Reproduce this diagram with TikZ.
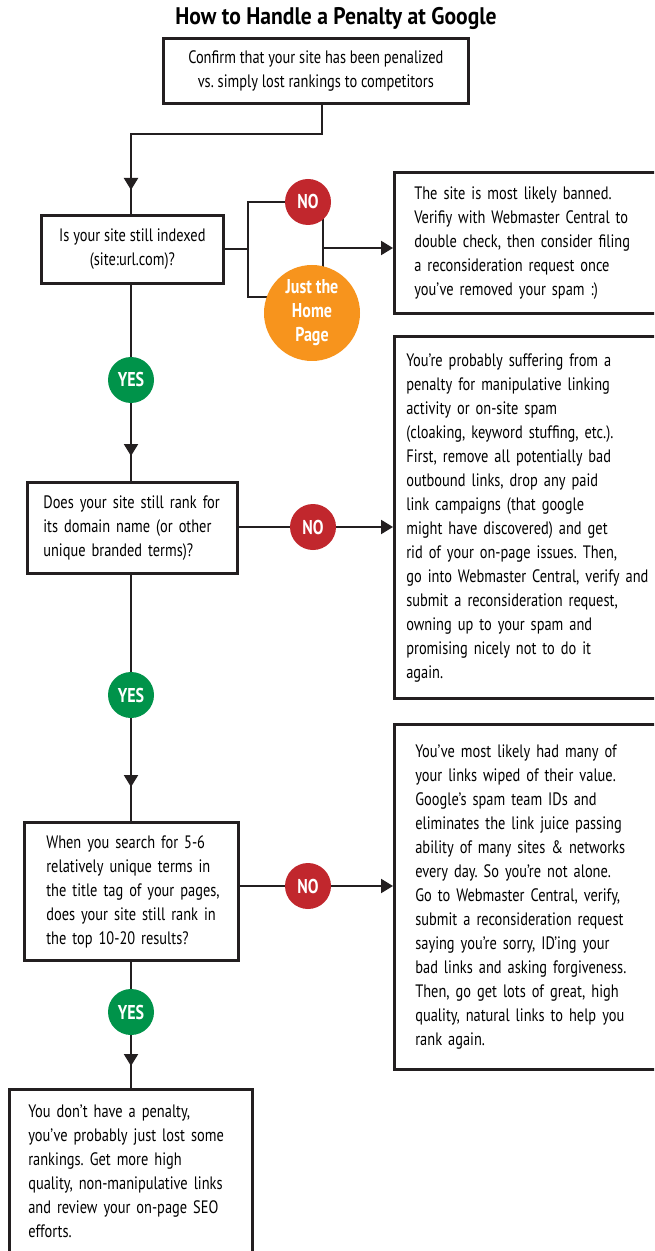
\documentclass[tikz,border=0pt]{standalone}
\usepackage{fontspec}
\setmainfont{PT Sans}[FakeStretch=0.8]
\newfontfamily\titlefont{PT Sans}[FakeStretch=0.9]
\usetikzlibrary{arrows.meta,calc,backgrounds}
\definecolor{nored}{HTML}{C1272D}
\definecolor{yesgreen}{HTML}{00934A}
\definecolor{homeorange}{HTML}{F7941D}
\definecolor{ink}{HTML}{231F20}
\newcommand\txl[1]{\begin{tabular}{@{}l@{}}#1\end{tabular}}
\frenchspacing
\begin{document}
\begin{tikzpicture}[x=0.75pt,y=-0.75pt,
  body/.style={font=\fontsize{13.5}{18}\selectfont},
  box/.style={draw=ink,line width=2pt,rectangle,inner ysep=0pt,anchor=north west,body},
  cbox/.style={box,align=center,inner xsep=0pt},
  lbox/.style={box,align=left},
  badge/.style={circle,inner sep=0pt,minimum size=34.5pt,text=white,font=\fontsize{15}{16}\selectfont\bfseries},
  nobadge/.style={badge,fill=nored},
  yesbadge/.style={badge,fill=yesgreen},
  conn/.style={draw=ink,line width=1.6pt},
  arr/.style={conn,-{Triangle[width=10.5pt,length=9pt]}},
  ttl/.style={font=\titlefont\fontsize{18}{20}\selectfont\bfseries}]
\useasboundingbox (0,0) rectangle (654,1251);
\clip (0,0) rectangle (654,1251);

\node[ttl] (title) at (336,18) {How to Handle a Penalty at Google};

\node[cbox,minimum width=228.75pt,minimum height=48.75pt] (b1) at (162,37)
  {Confirm that your site has been penalized\\vs. simply lost rankings to competitors};
\node[cbox,minimum width=136.5pt,minimum height=51pt] (b2) at (40,214)
  {Is your site still indexed\\(site:url.com)?};
\node[lbox,text width=185.25pt,inner xsep=15pt,minimum height=105.75pt] (b3) at (393,171)
  {\txl{The site is most likely banned.\\Verifiy with Webmaster Central to\\double check, then consider filing\\a reconsideration request once\\you’ve removed your spam :)}};
\node[lbox,text width=133.5pt,inner xsep=12pt,minimum height=68.25pt] (b4) at (26,481)
  {\txl{Does your site still rank for\\its domain name (or other\\unique branded terms)?}};
\node[lbox,text width=197.25pt,inner xsep=9pt,minimum height=271.5pt] (b5) at (393,335)
  {\txl{You’re probably suffering from a\\penalty for manipulative linking\\activity or on-site spam\\(cloaking, keyword stuffing, etc.).\\First, remove all potentially bad\\outbound links, drop any paid\\link campaigns (that google\\might have discovered) and get\\rid of your on-page issues. Then,\\go into Webmaster Central, verify and\\submit a reconsideration request,\\owning up to your spam and\\promising nicely not to do it\\again.}};
\node[lbox,text width=127.5pt,inner xsep=16.5pt,minimum height=103.5pt] (b6) at (23,821)
  {\txl{When you search for 5-6\\relatively unique terms in\\the title tag of your pages,\\does your site still rank in\\the top 10-20 results?}};
\node[lbox,text width=183.75pt,inner xsep=15.75pt,minimum height=258.75pt] (b7) at (393,723)
  {\txl{You’ve most likely had many of\\your links wiped of their value.\\Google’s spam team IDs and\\eliminates the link juice passing\\ability of many sites \& networks\\every day. So you’re not alone.\\Go to Webmaster Central, verify,\\submit a reconsideration request\\saying you’re sorry, ID’ing your\\bad links and asking forgiveness.\\Then, go get lots of great, high\\quality, natural links to help you\\rank again.}};
\node[lbox,text width=153.75pt,inner xsep=14.25pt,minimum height=124.5pt] (b8) at (8,1088)
  {\txl{You don’t have a penalty,\\you’ve probably just lost some\\rankings. Get more high\\quality, non-manipulative links\\and review your on-page SEO\\efforts.}};

\node[nobadge] (no1) at (308,202) {NO};
\node[badge,fill=homeorange,minimum size=72pt,align=center,font=\fontsize{15}{18}\selectfont\bfseries] (home) at (312,313) {Just the\\Home\\Page};
\node[yesbadge] (yes1) at (131,380) {YES};
\node[nobadge] (no2) at (313,527) {NO};
\node[yesbadge] (yes2) at (131,695) {YES};
\node[nobadge] (no3) at (308,886) {NO};
\node[yesbadge] (yes3) at (131,1012) {YES};

\coordinate (sp) at (131,0);
\coordinate (t1) at (322,134);
\coordinate (s1a) at (248,202);
\coordinate (s1b) at (248,297);
\coordinate (m1) at (323,248);
\coordinate (m1a) at (323,202);
\coordinate (m1b) at (323,313);

\begin{pgfonlayer}{background}
\fill[white] (0,0) rectangle (654,1251);
\draw[conn] (t1 |- b1.south) -- (t1) -- (sp |- t1) -- (sp |- b2.north);
\draw[conn] (b2.east) -- (b2.east -| s1a);
\draw[conn] (no1) -- (s1a) -- (s1b) -- (s1b -| home.center);
\draw[conn] (m1a) -- (m1b);
\draw[conn] (sp |- b2.south) -- (sp |- b4.north);
\draw[conn] (no2 -| b4.east) -- (no2);
\draw[conn] (sp |- b4.south) -- (sp |- b6.north);
\draw[conn] (no3 -| b6.east) -- (no3);
\draw[conn] (sp |- b6.south) -- (sp |- b8.north);
\end{pgfonlayer}
\draw[arr] (sp |- t1) -- ([yshift=18pt]sp |- b2.north);
\draw[arr] (m1) -- (m1 -| b3.west);
\draw[arr] (yes1.south) -- ([yshift=18.75pt]sp |- b4.north);
\draw[arr] (no2) -- (no2 -| b5.west);
\draw[arr] (yes2.south) -- ([yshift=25.5pt]sp |- b6.north);
\draw[arr] (no3) -- (no3 -| b7.west);
\draw[arr] (yes3.south) -- ([yshift=16.5pt]sp |- b8.north);
\end{tikzpicture}
\end{document}
